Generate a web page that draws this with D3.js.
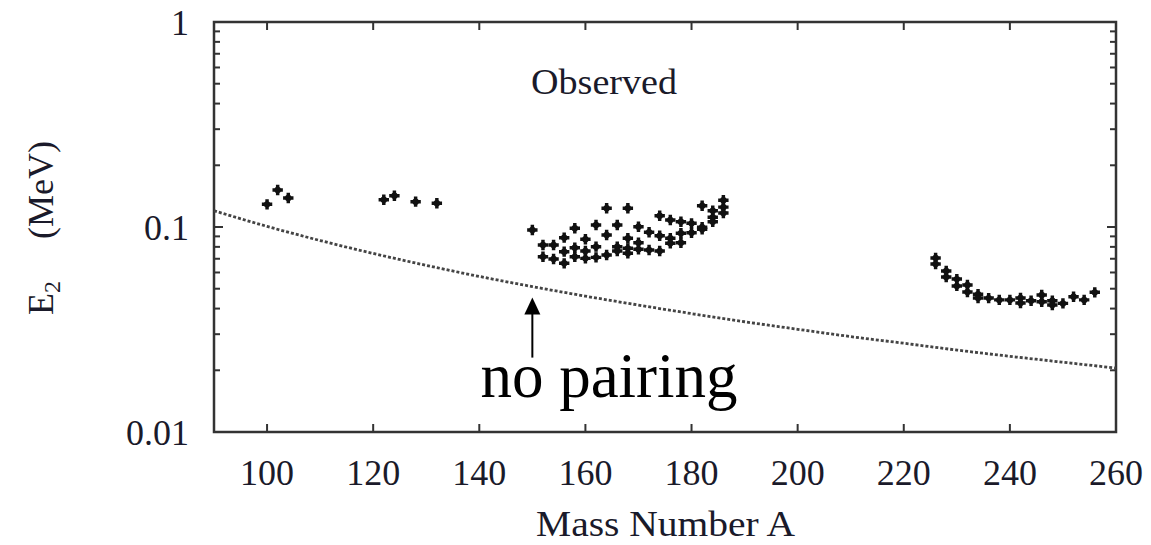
<!DOCTYPE html>
<html>
<head>
<meta charset="utf-8">
<script src="https://cdn.jsdelivr.net/npm/d3@7"></script>
</head>
<body style="margin:0">
<svg id="chart" width="1151" height="545"></svg>
<script>
// observed E2 values (MeV) vs mass number A
const obsA = [
  100, 102, 104,
  122, 124, 128, 132,
  150, 152, 152, 154, 154, 156, 156, 156, 158, 158, 158,
  160, 160, 160, 162, 162, 162, 164, 164, 164, 166, 166, 166,
  168, 168, 168, 168, 170, 170, 170, 172, 172, 174, 174, 174,
  176, 176, 176, 178, 178, 178, 180, 180, 182, 182, 182,
  184, 184, 184, 186, 186, 186,
  226, 226, 228, 228, 230, 230, 232, 232, 234, 234, 236,
  238, 240, 242, 242, 244, 246, 246, 248, 248, 250, 252, 254, 256
];
const obsE = [
  0.129, 0.1515, 0.1385,
  0.1359, 0.1421, 0.1329, 0.1305,
  0.0967, 0.0817, 0.0716, 0.0817, 0.0698, 0.0887, 0.0758, 0.0665, 0.0986, 0.0793, 0.0716,
  0.0871, 0.0764, 0.0703, 0.1023, 0.0802, 0.0711, 0.1234, 0.0914, 0.073, 0.1023, 0.0802, 0.0764,
  0.1234, 0.0881, 0.0787, 0.0744, 0.1003, 0.0838, 0.0778, 0.0942, 0.0772, 0.1135, 0.0907, 0.0764,
  0.1082, 0.0881, 0.0833, 0.1061, 0.0932, 0.0838, 0.1042, 0.0938, 0.127, 0.0997, 0.0975,
  0.1201, 0.1115, 0.1061, 0.135, 0.125, 0.117,
  0.0706, 0.066, 0.061, 0.057, 0.0557, 0.0516, 0.0521, 0.0482, 0.047, 0.045, 0.045,
  0.0441, 0.0441, 0.0451, 0.0426, 0.0437, 0.0466, 0.0432, 0.0437, 0.0416, 0.0424, 0.0457, 0.0441, 0.048
];

// "no pairing" reference curve
const curveA = [90, 100, 110, 120, 130, 140, 150, 160, 170, 180, 190, 200, 210, 220, 230, 240, 250, 260];
const curveE = [0.120, 0.1007, 0.0859, 0.0743, 0.0650, 0.0574, 0.0512, 0.0460, 0.0416, 0.0378,
                0.0345, 0.0317, 0.0292, 0.0271, 0.0251, 0.0234, 0.0219, 0.0205];

const xTicks = [100, 120, 140, 160, 180, 200, 220, 240, 260];
const yTicks = [0.01, 0.1, 1];
const yTickLabels = ["0.01", "0.1", "1"];

const FONT = '"Liberation Serif", Tinos, "Times New Roman", "Nimbus Roman", FreeSerif, serif';
const margin = {left: 214, right: 35, top: 22, bottom: 113};
const W = 1151, H = 545;
const iw = W - margin.left - margin.right;
const ih = H - margin.top - margin.bottom;

const svg = d3.select('#chart').style('font-family', FONT);
const g = svg.append('g').attr('transform', `translate(${margin.left},${margin.top})`);

const x = d3.scaleLinear().domain([90, 260]).range([0, iw]);
const y = d3.scaleLog().domain([0.01, 1]).range([ih, 0]);

// minor log ticks
const minor = [];
[0.01, 0.1].forEach(d => { for (let k = 2; k <= 9; k++) minor.push(d * k); });

const frameColor = '#333';

// ticks (inward, all four sides)
const tickG = g.append('g').attr('stroke', frameColor).attr('stroke-width', 2);
xTicks.filter(t => t < 260).forEach(t => {
  tickG.append('line').attr('x1', x(t)).attr('x2', x(t)).attr('y1', ih).attr('y2', ih - 8);
  tickG.append('line').attr('x1', x(t)).attr('x2', x(t)).attr('y1', 0).attr('y2', 8);
});
minor.forEach(t => {
  tickG.append('line').attr('x1', 0).attr('x2', 6).attr('y1', y(t)).attr('y2', y(t));
  tickG.append('line').attr('x1', iw).attr('x2', iw - 6).attr('y1', y(t)).attr('y2', y(t));
});
yTicks.forEach(t => {
  tickG.append('line').attr('x1', 0).attr('x2', 9).attr('y1', y(t)).attr('y2', y(t));
  tickG.append('line').attr('x1', iw).attr('x2', iw - 9).attr('y1', y(t)).attr('y2', y(t));
});

// frame
g.append('rect')
  .attr('width', iw).attr('height', ih)
  .attr('fill', 'none')
  .attr('stroke', frameColor)
  .attr('stroke-width', 2.5);

// tick labels
g.selectAll('.xlab').data(xTicks).enter().append('text')
  .style('font-family', FONT)
  .attr('x', d => x(d)).attr('y', ih + 53)
  .attr('text-anchor', 'middle')
  .attr('font-size', 36).attr('fill', '#1a1a2a')
  .text(d => d);

g.selectAll('.ylab').data(yTicks).enter().append('text')
  .style('font-family', FONT)
  .attr('x', -25).attr('y', d => y(d) + 12.5)
  .attr('text-anchor', 'end')
  .attr('font-size', 36).attr('fill', '#1a1a2a')
  .text((d, i) => yTickLabels[i]);

// no-pairing curve
const line = d3.line().x((d, i) => x(curveA[i])).y(d => y(d)).curve(d3.curveMonotoneX);
g.append('path')
  .attr('d', line(curveE))
  .attr('fill', 'none')
  .attr('stroke', '#444')
  .attr('stroke-width', 2.8)
  .attr('stroke-dasharray', '3,2');

// observed points: thick cross blobs
const pts = g.selectAll('.pt').data(obsE).enter().append('g')
  .attr('transform', (d, i) => `translate(${x(obsA[i])},${y(d)})`);
pts.append('path')
  .attr('d', d3.symbol().type(d3.symbolCross).size(60))
  .attr('fill', '#111');
pts.append('circle')
  .attr('r', 3.2)
  .attr('fill', '#111');

// texts
g.append('text')
  .style('font-family', FONT)
  .attr('x', 317).attr('y', 72)
  .attr('font-size', 36).attr('fill', '#1a1a2a')
  .attr('textLength', 146).attr('lengthAdjust', 'spacingAndGlyphs')
  .text('Observed');

svg.append('text')
  .style('font-family', FONT)
  .attr('x', 536).attr('y', 536)
  .attr('font-size', 36).attr('fill', '#1a1a2a')
  .attr('textLength', 259).attr('lengthAdjust', 'spacingAndGlyphs')
  .text('Mass Number A');

const yl = svg.append('text')
  .style('font-family', FONT)
  .attr('transform', 'translate(53,315) rotate(-90)')
  .attr('font-size', 36).attr('fill', '#1a1a2a');
yl.append('tspan').text('E');
yl.append('tspan').attr('font-size', 24).attr('dy', 7).text('2');
yl.append('tspan').attr('dy', -7).attr('dx', 42).text('(MeV)');

// annotation arrow
const ax = x(150);
const tipY = y(0.0512) + 11;
g.append('line')
  .attr('x1', ax).attr('x2', ax)
  .attr('y1', tipY + 14).attr('y2', tipY + 60)
  .attr('stroke', '#000').attr('stroke-width', 2);
g.append('path')
  .attr('d', `M${ax},${tipY} L${ax - 8},${tipY + 17} L${ax + 8},${tipY + 17} Z`)
  .attr('fill', '#000');

svg.append('text')
  .style('font-family', FONT)
  .attr('x', 609).attr('y', 397)
  .attr('text-anchor', 'middle')
  .attr('font-size', 63).attr('fill', '#000')
  .text('no pairing');
</script>
</body>
</html>
